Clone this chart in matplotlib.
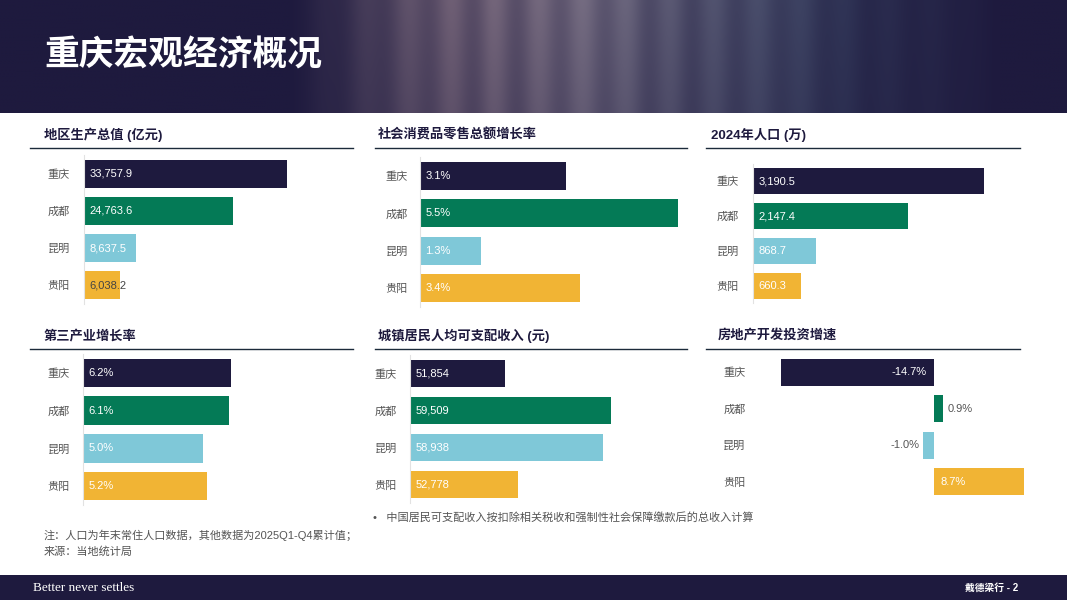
import numpy as np
import matplotlib
matplotlib.use("Agg")
import matplotlib.pyplot as plt
from matplotlib.lines import Line2D
from matplotlib.patches import Rectangle

plt.rcParams['font.family'] = ['Liberation Sans', 'Noto Sans CJK SC', 'DejaVu Sans']

# ---------------- data ----------------
cities = ['重庆', '成都', '昆明', '贵阳']
gdp = [33757.9, 24763.6, 8637.5, 6038.2]          # 亿元
retail_growth = [3.1, 5.5, 1.3, 3.4]              # %
population = [3190.5, 2147.4, 868.7, 660.3]       # 万
tertiary_growth = [6.2, 6.1, 5.0, 5.2]            # %
income = [51854, 59509, 58938, 52778]             # 元
realestate_growth = [-14.7, 0.9, -1.0, 8.7]       # %

titles = ['地区生产总值 (亿元)', '社会消费品零售总额增长率', '2024年人口 (万)',
          '第三产业增长率', '城镇居民人均可支配收入 (元)', '房地产开发投资增速']

NAVY = '#1e1a3e'
GREEN = '#047a56'
LBLUE = '#7fc8d8'
YELLOW = '#f1b434'
bar_colors = [NAVY, GREEN, LBLUE, YELLOW]
GRAY = '#555555'

W, H = 1067, 600
fig = plt.figure(figsize=(W / 100, H / 100), dpi=100)
fig.patch.set_facecolor('white')


def fx(x):
    return x / W


def fy(y):
    return 1 - y / H


def ax_px(left, top, width, height):
    return fig.add_axes([fx(left), fy(top + height), width / W, height / H])


# ---------------- header (photo band approximated by a soft blend) ----------------
hdr = fig.add_axes([0, fy(113), 1, 113 / H])
hdr.set_axis_off()
xs = np.linspace(0, W, 800)
ys = np.linspace(0, 113, 80)
X, Y = np.meshgrid(xs, ys)
bump = np.clip((X - 290) / 200, 0, 1) * np.clip((1000 - X) / 300, 0, 1)
streaks = 0.75 + 0.12 * np.sin(X / 7.0) + 0.08 * np.sin(X / 31.0 + 1.3)
vert = 0.8 + 0.2 * np.clip(1 - Y / 113, 0, 1)
bump = np.clip(bump * streaks * vert * 0.8, 0, 1)
navy_rgb = np.array([30, 26, 62]) / 255
warm = np.array([175, 150, 160]) / 255
cool = np.array([80, 100, 130]) / 255
mix = np.clip((X - 450) / 400, 0, 1)[..., None]
photo = warm[None, None, :] * (1 - mix) + cool[None, None, :] * mix
img = navy_rgb[None, None, :] * (1 - bump[..., None]) + photo * bump[..., None]
hdr.imshow(img, aspect='auto', extent=[0, W, 113, 0], interpolation='bilinear')
hdr.set_xlim(0, W)
hdr.set_ylim(113, 0)
fig.text(fx(44), fy(55), '重庆宏观经济概况', color='white', fontsize=25,
         fontweight='bold', va='center', ha='left',
         family=['Noto Sans CJK SC', 'DejaVu Sans'])

# ---------------- footer ----------------
fig.add_artist(Rectangle((0, 0), 1, 25 / H, transform=fig.transFigure,
                         facecolor=NAVY, edgecolor='none'))
fig.text(fx(33), fy(588), 'Better never settles', color='white', fontsize=9.5,
         family=['Liberation Serif'], va='center', ha='left')
fig.text(fx(1018), fy(588), '戴德梁行 - 2', color='white', fontsize=7,
         fontweight='bold', va='center', ha='right')

# ---------------- panels ----------------
# (left, top, width, height, xlim, label_px_pad, title_x, title_y, line_x0, line_x1, line_y)
panels = [
    (84, 155, 265, 149, (0, 44000), 14, 44, 135, 30, 353, 148),
    (420, 157, 263, 150, (0, 5.6), 12, 378, 135, 375, 687, 148),
    (753, 164, 253, 139, (0, 3500), 14, 711, 135, 706, 1020, 148),
    (83, 354, 239, 151, (0, 10), 13, 44, 336, 30, 353, 349),
    (410, 355, 208, 148, (45000, 60000), 13, 378, 336, 375, 687, 349),
    (777.5, 354, 250, 146, (-15, 9), 32, 718, 336, 706, 1020, 349),
]
datasets = [gdp, retail_growth, population, tertiary_growth, income, realestate_growth]
fmts = ['{:,.1f}', '{:.1f}%', '{:,.1f}', '{:.1f}%', '{:,.0f}', '{:.1f}%']

for k, (spec, vals, fmt, title) in enumerate(zip(panels, datasets, fmts, titles)):
    left, top, width, height, xlim, pad, tx, ty, lx0, lx1, ly = spec
    ax = ax_px(left, top, width, height)
    ypos = np.arange(len(cities))
    base = xlim[0] if xlim[0] > 0 else 0
    ax.barh(ypos, [v - base for v in vals], left=base,
            height=0.75, color=bar_colors, edgecolor='none')
    ax.set_xlim(*xlim)
    ax.set_ylim(len(cities) - 0.5, -0.5)
    ax.set_yticks(ypos)
    ax.set_yticklabels(cities, fontsize=8, color=GRAY)
    ax.tick_params(axis='y', length=0, pad=pad * 0.72)
    ax.set_xticks([])
    for s in ['top', 'right', 'bottom']:
        ax.spines[s].set_visible(False)
    if xlim[0] < 0:
        ax.spines['left'].set_visible(False)
    else:
        ax.spines['left'].set_color('#e2e2e2')
        ax.spines['left'].set_linewidth(0.8)
    ax.set_facecolor('none')

    px_per_unit = width / (xlim[1] - xlim[0])
    for i, v in enumerate(vals):
        label = fmt.format(v)
        if xlim[0] < 0:
            bar_px = abs(v) * px_per_unit
            if bar_px < 30:
                if v >= 0:
                    ax.annotate(label, (v, i), xytext=(3, 0), textcoords='offset points',
                                ha='left', va='center', fontsize=8, color=GRAY)
                else:
                    ax.annotate(label, (v, i), xytext=(-3, 0), textcoords='offset points',
                                ha='right', va='center', fontsize=8, color=GRAY)
            else:
                if v >= 0:
                    ax.annotate(label, (0, i), xytext=(5, 0), textcoords='offset points',
                                ha='left', va='center', fontsize=8, color='white')
                else:
                    ax.annotate(label, (0, i), xytext=(-5, 0), textcoords='offset points',
                                ha='right', va='center', fontsize=8, color='white')
        else:
            bar_px = (v - xlim[0]) * px_per_unit
            col = 'white' if bar_px > 40 else '#444444'
            ax.annotate(label, (xlim[0], i), xytext=(4, 0), textcoords='offset points',
                        ha='left', va='center', fontsize=8, color=col)

    fig.text(fx(tx), fy(ty), title, fontsize=9.5, fontweight='bold', color=NAVY,
             va='center', ha='left')
    fig.add_artist(Line2D([fx(lx0), fx(lx1)], [fy(ly), fy(ly)], transform=fig.transFigure,
                          color='#1b2a3a', linewidth=1))

# ---------------- notes ----------------
fig.text(fx(373), fy(517), '•   中国居民可支配收入按扣除相关税收和强制性社会保障缴款后的总收入计算',
         fontsize=8, color=GRAY, va='center', ha='left')
fig.text(fx(44), fy(535), '注：人口为年末常住人口数据，其他数据为2025Q1-Q4累计值；',
         fontsize=8, color=GRAY, va='center', ha='left')
fig.text(fx(44), fy(551), '来源：当地统计局',
         fontsize=8, color=GRAY, va='center', ha='left')

fig.savefig('out.png', dpi=100, facecolor='white')
